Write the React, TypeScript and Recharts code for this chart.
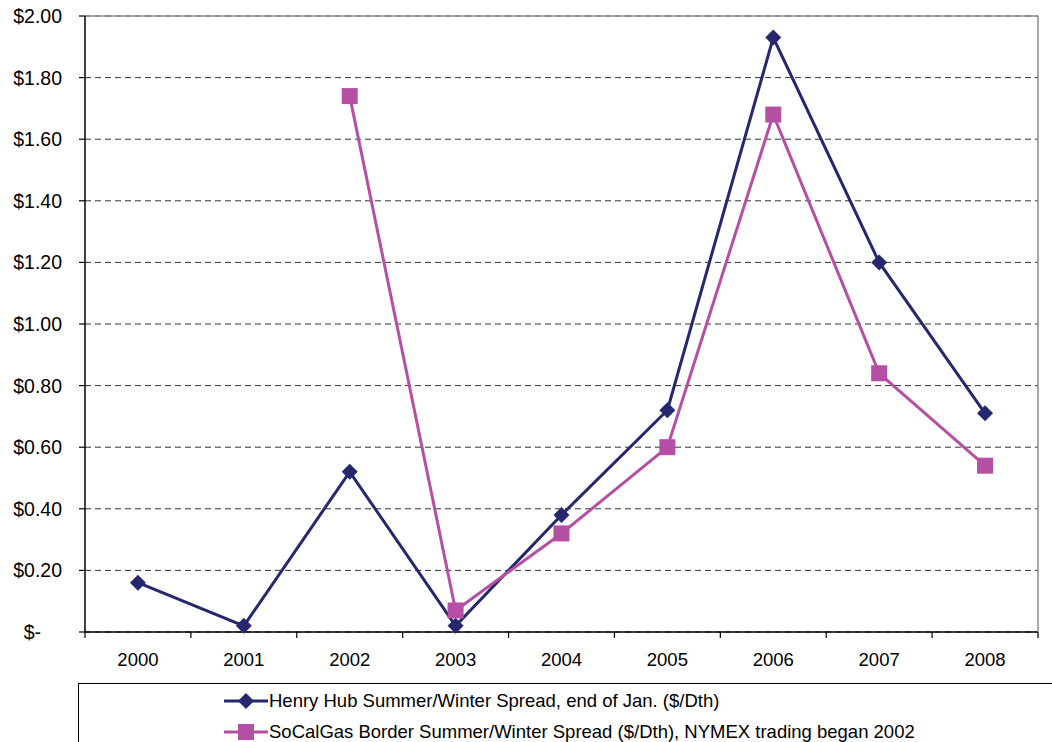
import React from 'react';
import { LineChart, Line, XAxis, YAxis, CartesianGrid, ReferenceLine } from 'recharts';

const years = ['2000', '2001', '2002', '2003', '2004', '2005', '2006', '2007', '2008'];
const henryHub = [0.16, 0.02, 0.52, 0.02, 0.38, 0.72, 1.93, 1.2, 0.71];
const soCalGas = [null, null, 1.74, 0.07, 0.32, 0.6, 1.68, 0.84, 0.54];
const yTicks = [0, 0.2, 0.4, 0.6, 0.8, 1.0, 1.2, 1.4, 1.6, 1.8, 2.0];

const henryLabel = 'Henry Hub Summer/Winter Spread, end of Jan. ($/Dth)';
const soCalLabel = 'SoCalGas Border Summer/Winter Spread ($/Dth), NYMEX trading began 2002';

const NAVY = '#27276f';
const PINK = '#b54fa3';
const FONT = '"Liberation Sans", Arial, sans-serif';

const W = 1052;
const H = 742;
const MARGIN = { top: 16, right: 14, bottom: 70, left: 0 };
const Y_AXIS_W = 85;
const PLOT_W = W - MARGIN.left - MARGIN.right - Y_AXIS_W;
const BAND = PLOT_W / years.length;

const data = years.map((year, i) => ({
  year,
  henry: henryHub[i],
  socal: soCalGas[i],
}));

const money = (v: number) => (v === 0 ? '$-' : `$${v.toFixed(2)}`);

function YTick(props: any) {
  const { x, y, payload } = props;
  const v = payload.value as number;
  return (
    <text
      x={v === 0 ? x - 21 : x}
      y={y}
      dy="0.36em"
      textAnchor="end"
      fontFamily={FONT}
      fontSize={19.5}
      fill="#000"
    >
      {money(v)}
    </text>
  );
}

// year labels centred in each band, with short tick marks on the band edges
function XTick(props: any) {
  const { x, y, payload, index } = props;
  const left = x - BAND / 2;
  const right = x + BAND / 2;
  return (
    <g>
      <line x1={left} y1={y} x2={left} y2={y + 6} stroke="#000" strokeWidth={1.2} />
      {index === years.length - 1 && (
        <>
          <line x1={right} y1={y} x2={right} y2={y + 6} stroke="#000" strokeWidth={1.2} />
          {/* grey right-hand frame of the plot area */}
          <line x1={right} y1={y} x2={right} y2={MARGIN.top} stroke="#8c8c8c" strokeWidth={1.5} />
        </>
      )}
      <text x={x} y={y + 34} textAnchor="middle" fontFamily={FONT} fontSize={18.5} fill="#000">
        {payload.value}
      </text>
    </g>
  );
}

function Diamond(props: any) {
  const { cx, cy, index } = props;
  if (cx == null || cy == null) return <g key={`d${index}`} />;
  const r = 8;
  return (
    <polygon
      key={`d${index}`}
      points={`${cx},${cy - r} ${cx + r},${cy} ${cx},${cy + r} ${cx - r},${cy}`}
      fill={NAVY}
    />
  );
}

function Square(props: any) {
  const { cx, cy, index } = props;
  if (cx == null || cy == null) return <g key={`s${index}`} />;
  const s = 16;
  return <rect key={`s${index}`} x={cx - s / 2} y={cy - s / 2} width={s} height={s} fill={PINK} />;
}

function LegendMarker({ color, square }: { color: string; square: boolean }) {
  return (
    <svg width={44} height={18} style={{ display: 'block', marginRight: 1 }}>
      <line x1={0} y1={9} x2={44} y2={9} stroke={color} strokeWidth={3} />
      {square ? (
        <rect x={14} y={1} width={16} height={16} fill={color} />
      ) : (
        <polygon points="22,1 30,9 22,17 14,9" fill={color} />
      )}
    </svg>
  );
}

function LegendBox() {
  const rows = [
    { label: henryLabel, color: NAVY, square: false },
    { label: soCalLabel, color: PINK, square: true },
  ];
  return (
    <div
      style={{
        position: 'absolute',
        left: 78,
        top: 683,
        borderTop: '1px solid #000',
        borderLeft: '1px solid #000',
        width: 1000,
        height: 80,
        boxSizing: 'border-box',
        paddingTop: 1,
        paddingLeft: 145,
      }}
    >
      {rows.map((r) => (
        <div
          key={r.label}
          style={{
            display: 'flex',
            alignItems: 'center',
            height: 31,
            fontFamily: FONT,
            fontSize: 18.5,
            color: '#000',
            whiteSpace: 'nowrap',
          }}
        >
          <LegendMarker color={r.color} square={r.square} />
          <span>{r.label}</span>
        </div>
      ))}
    </div>
  );
}

export default function App() {
  return (
    <div
      style={{
        position: 'absolute',
        left: 0,
        top: 0,
        width: W,
        height: H,
        overflow: 'hidden',
        background: '#fff',
      }}
    >
      <LineChart width={W} height={H} data={data} margin={MARGIN}>
        <CartesianGrid vertical={false} stroke="#333" strokeDasharray="6 4" />
        <ReferenceLine y={2} stroke="#8c8c8c" strokeWidth={1.5} />
        <Line
          dataKey="henry"
          stroke={NAVY}
          strokeWidth={3}
          dot={<Diamond />}
          activeDot={false}
          isAnimationActive={false}
        />
        <Line
          dataKey="socal"
          stroke={PINK}
          strokeWidth={3}
          dot={<Square />}
          activeDot={false}
          connectNulls={false}
          isAnimationActive={false}
        />
        <XAxis
          dataKey="year"
          scale="band"
          height={40}
          tickLine={false}
          tickSize={0}
          tickMargin={0}
          axisLine={{ stroke: '#000', strokeWidth: 1.5 }}
          tick={<XTick />}
          interval={0}
        />
        <YAxis
          width={Y_AXIS_W}
          domain={[0, 2]}
          ticks={yTicks}
          interval={0}
          tickSize={6}
          tickMargin={17}
          tickLine={{ stroke: '#000', strokeWidth: 1.2 }}
          axisLine={{ stroke: '#000', strokeWidth: 1.5 }}
          tick={<YTick />}
        />
      </LineChart>
      <LegendBox />
    </div>
  );
}
